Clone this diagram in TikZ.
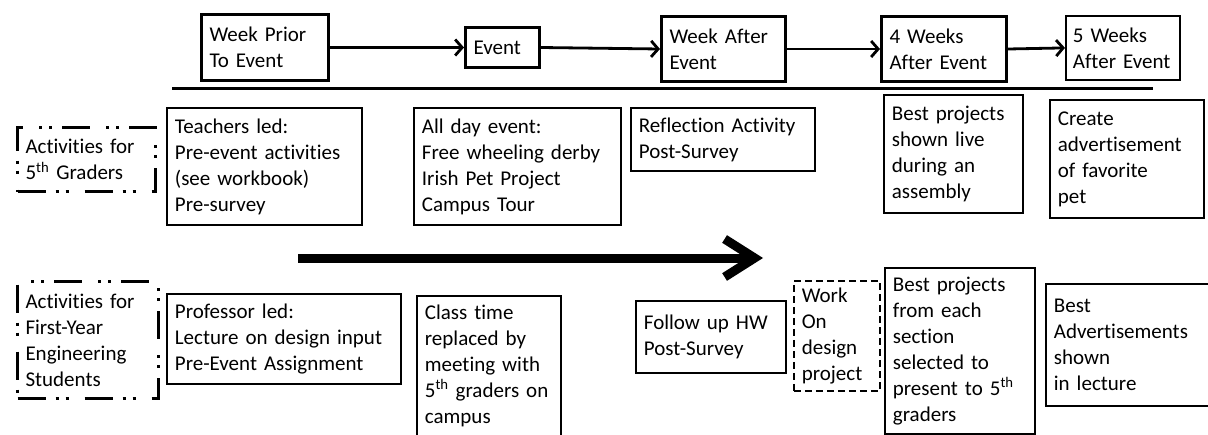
\documentclass[tikz,border=0pt]{standalone}
\usepackage{fontspec}
\setmainfont{Carlito}[Ligatures=NoCommon]
\usetikzlibrary{arrows.meta}

\tikzset{
	box/.style={draw, line width=1.8pt, anchor=north west, align=left, inner xsep=8pt, inner ysep=6pt, font=\fontsize{21}{26}\selectfont},
	stagebox/.style={box, line width=3pt},
	groupbox/.style={box, line width=3pt, dash pattern=on 28pt off 10pt on 3pt off 7pt on 3pt off 16pt},
	workbox/.style={box, line width=1.6pt, dash pattern=on 7pt off 4pt}
}

\begin{document}
\begin{tikzpicture}[x=1pt,y=-1pt,>={Straight Barb[length=7pt,width=16pt]}]
			\useasboundingbox (0,0) rectangle (1208,434);
			
			% Timeline
			\node[stagebox, text width=111pt, minimum height=66pt] (prior) at (200,13) {Week Prior\\To Event};
			\node[stagebox, text width=58pt, minimum height=40pt] (event) at (464,26) {Event};
			\node[stagebox, text width=108pt, minimum height=65pt] (wafter) at (660,15) {Week After\\Event};
			\node[stagebox, text width=109pt, minimum height=65pt] (wfour) at (880,15) {4 Weeks\\After Event};
			\node[box, inner xsep=7pt, text width=100pt, minimum height=64pt] (wfive) at (1065,15) {5 Weeks\\After Event};
			\draw[line width=2.8pt,->] (prior.east) -- (event.west);
			\draw[line width=2.8pt,->] (event.east) -- (wafter.west);
			\draw[line width=2.8pt,->] (wafter.east) -- (wfour.west);
			\draw[line width=2.8pt,->] (wfour.east) -- (wfive.west);
			
			% Separator
			\coordinate (sepL) at (172,88);
			\coordinate (sepR) at (1153,88);
			\draw[line width=3pt] (sepL) -- (sepR);
			
			% 5th graders
			\node[groupbox, text width=122pt, minimum height=64pt] (kids) at (16,126) {Activities for\\5\textsuperscript{th} Graders};
			\node[box, text width=179pt, minimum height=117pt] (teach) at (166,107) {Teachers led:\\Pre-event activities\\(see workbook)\\Pre-survey};
			\node[box, text width=191pt, minimum height=117pt] (allday) at (413,107) {All day event:\\Free wheeling derby\\Irish Pet Project\\Campus Tour};
			\node[box, text width=168pt, minimum height=63pt] (reflect) at (630,107) {Reflection Activity\\Post-Survey};
			\node[box, text width=123pt, minimum height=118pt] (live) at (883,94) {Best projects\\shown live\\during an\\assembly};
			\node[box, text width=138pt, minimum height=118pt] (advert) at (1049,99) {Create\\advertisement\\of favorite\\pet};
			
			% Flow
			\coordinate (flowL) at (298,258);
			\coordinate (flowR) at (763,258);
			\draw[line width=9pt,-{Straight Barb[length=30pt,width=38pt]}] (flowL) -- (flowR);
			
			% First-year students
			\node[groupbox, text width=125pt, minimum height=117pt] (fyes) at (16,280) {Activities for\\First-Year\\Engineering\\Students};
			\node[box, text width=218pt, minimum height=90pt] (prof) at (166,293) {Professor led:\\Lecture on design input\\Pre-Event Assignment};
			\node[box, text width=128pt, inner ysep=9pt] (classt) at (416,295) {Class time\\replaced by\\meeting with\\5\textsuperscript{th} graders on\\campus};
			\node[box, text width=134pt, minimum height=72pt] (follow) at (635,300) {Follow up HW\\Post-Survey};
			\node[workbox, text width=70pt, minimum height=110pt] (work) at (793,280) {Work\\On\\design\\project};
			\node[box, text width=134pt, inner ysep=9pt] (bestsec) at (884,267) {Best projects\\from each\\section\\selected to\\present to 5\textsuperscript{th}\\graders};
			\node[box, text width=164pt, minimum height=122pt] (bestadv) at (1045,283) {Best\\Advertisements\\shown\\in lecture};
		\end{tikzpicture}
\end{document}
